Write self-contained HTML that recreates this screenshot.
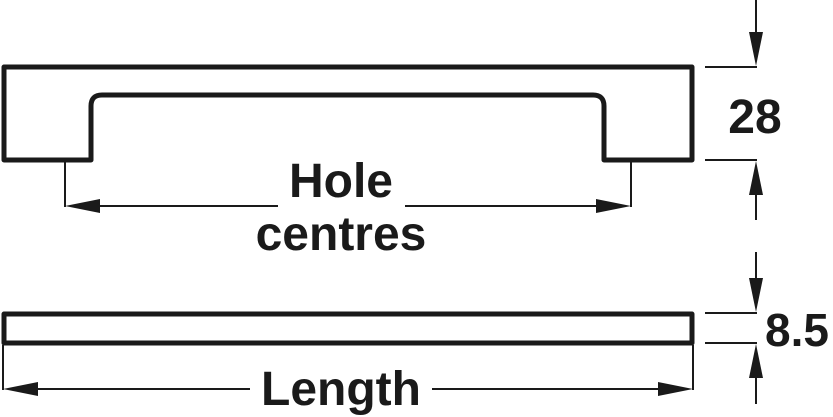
<!DOCTYPE html>
<html><head><meta charset="utf-8"><style>
html,body{margin:0;padding:0;background:#fff;}
svg{display:block;}
text{font-family:"Liberation Sans",sans-serif;font-weight:bold;fill:#1a1a1a;}
</style></head><body>
<svg width="833" height="417" viewBox="0 0 833 417" xmlns="http://www.w3.org/2000/svg">
<g fill="none" stroke="#1a1a1a" stroke-linejoin="round">
<path d="M91,160 L4,160 L4,67 L692,67 L692,160 L604,160 L604,106 Q604,95 593,95 L102,95 Q91,95 91,106 Z" stroke-width="5"/>
<rect x="4" y="314" width="688" height="29" stroke-width="5"/>
</g>
<g stroke="#1a1a1a" stroke-width="2" fill="none">
<line x1="65" y1="162" x2="65" y2="207"/>
<line x1="631" y1="162" x2="631" y2="207"/>
<line x1="80" y1="206" x2="278" y2="206"/>
<line x1="405" y1="206" x2="615" y2="206"/>
<line x1="705" y1="67" x2="757" y2="67"/>
<line x1="705" y1="160" x2="757" y2="160"/>
<line x1="756" y1="0" x2="756" y2="50"/>
<line x1="756" y1="177" x2="756" y2="220"/>
<line x1="705" y1="313" x2="757" y2="313"/>
<line x1="705" y1="343" x2="757" y2="343"/>
<line x1="756" y1="252" x2="756" y2="296"/>
<line x1="756" y1="360" x2="756" y2="404"/>
<line x1="3" y1="345" x2="3" y2="390"/>
<line x1="693" y1="345" x2="693" y2="390"/>
<line x1="18" y1="389" x2="250" y2="389"/>
<line x1="432" y1="389" x2="678" y2="389"/>
</g>
<g fill="#1a1a1a">
<polygon points="65,206 100,199 100,213"/>
<polygon points="631,206 596,199 596,213"/>
<polygon points="756,66 749,32 763,32"/>
<polygon points="756,161 749,195 763,195"/>
<polygon points="756,312 749,278 763,278"/>
<polygon points="756,344 749,378 763,378"/>
<polygon points="3,389 38,382 38,396"/>
<polygon points="693,389 658,382 658,396"/>
</g>
<text x="341" y="197" font-size="48" text-anchor="middle">Hole</text>
<text x="341" y="250" font-size="48" text-anchor="middle">centres</text>
<text x="341" y="405" font-size="48" text-anchor="middle">Length</text>
<text x="755" y="133" font-size="48" text-anchor="middle">28</text>
<text x="797" y="346" font-size="46" text-anchor="middle">8.5</text>
</svg>
</body></html>
